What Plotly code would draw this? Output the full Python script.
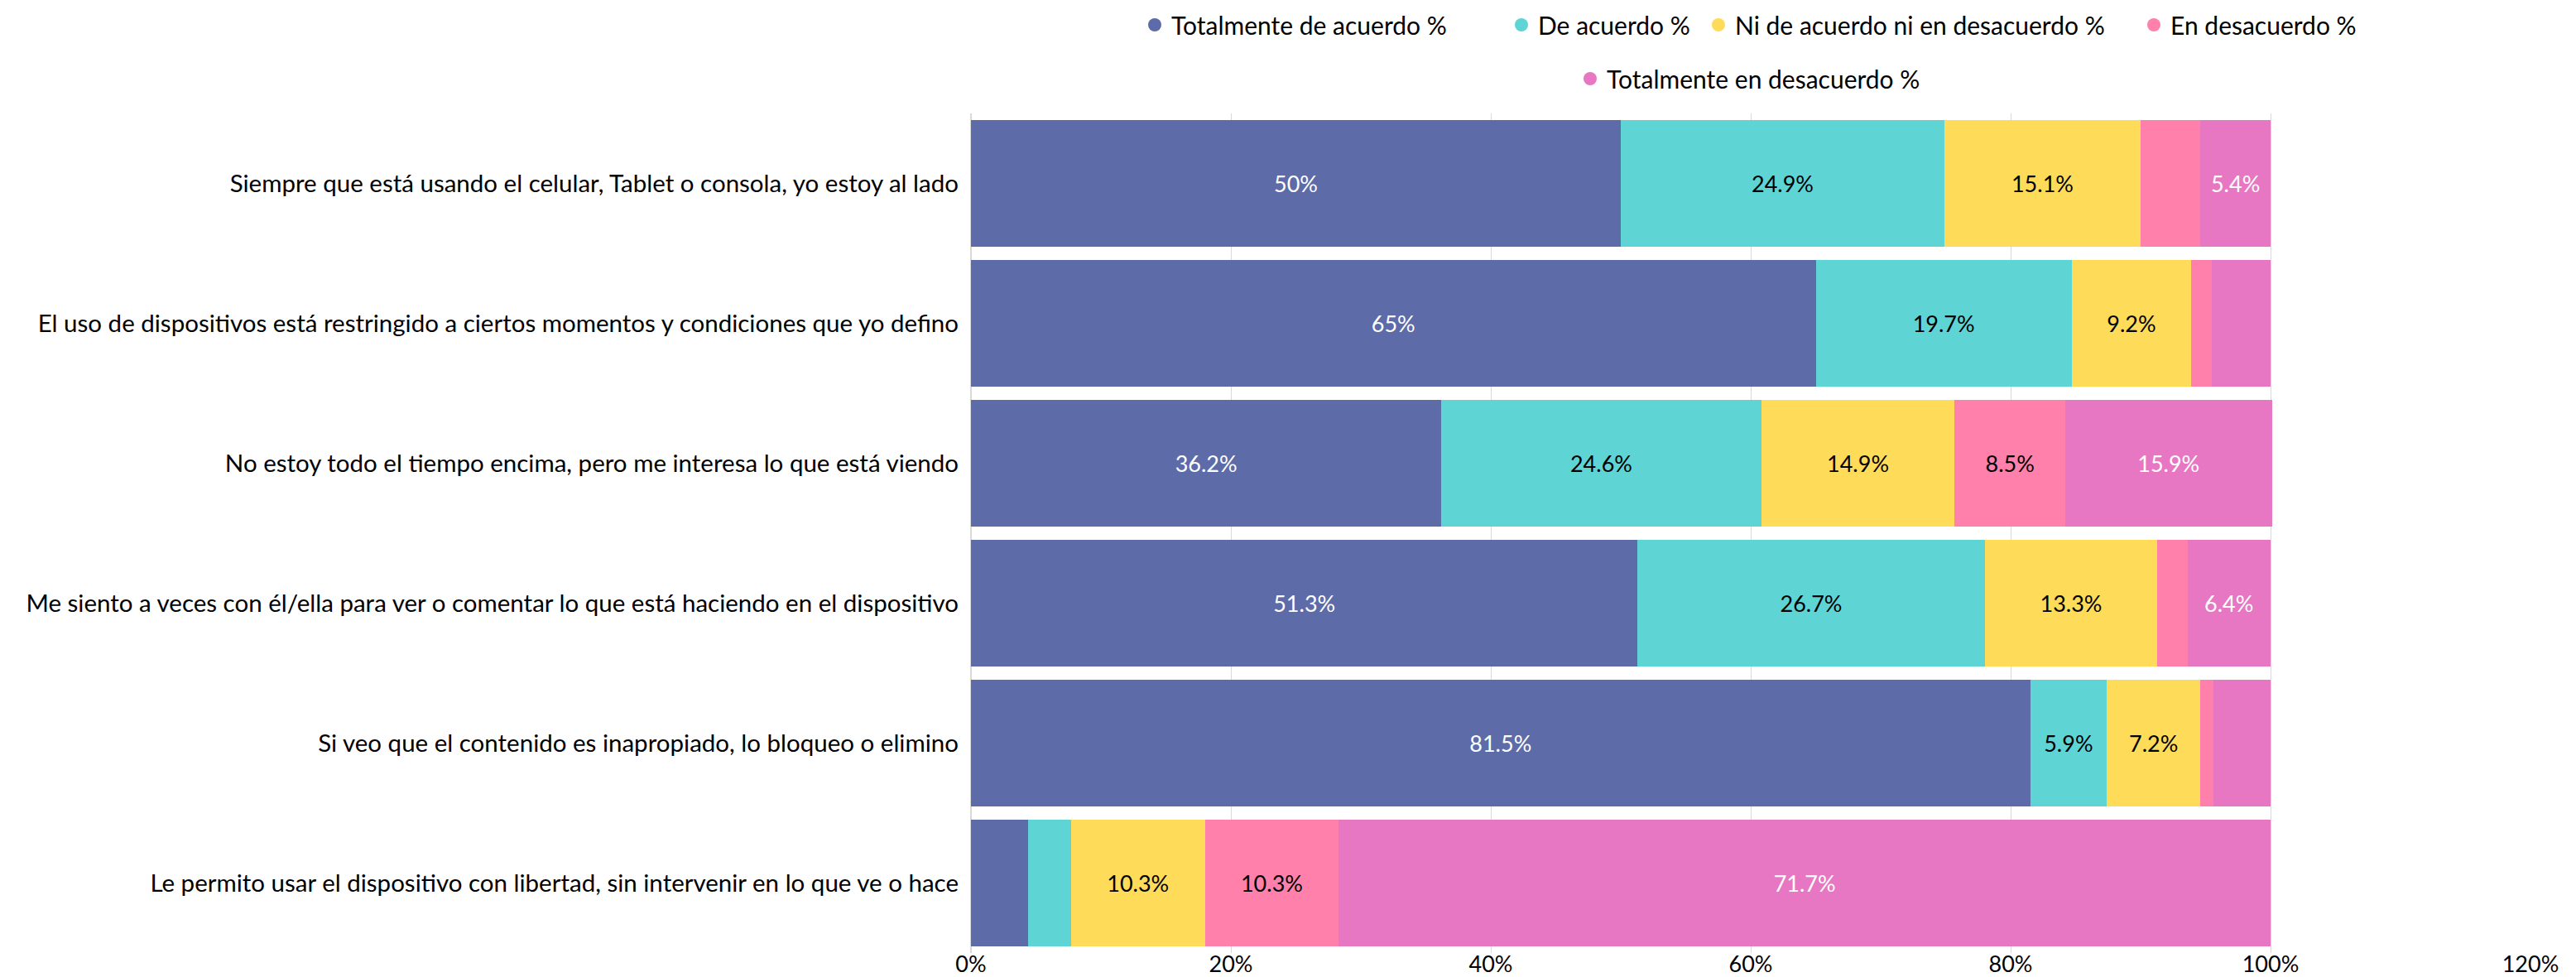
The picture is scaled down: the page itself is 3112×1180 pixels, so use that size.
import plotly.graph_objects as go

categories = [
    "Siempre que está usando el celular, Tablet o consola, yo estoy al lado",
    "El uso de dispositivos está restringido a ciertos momentos y condiciones que yo defino",
    "No estoy todo el tiempo encima, pero me interesa lo que está viendo",
    "Me siento a veces con él/ella para ver o comentar lo que está haciendo en el dispositivo",
    "Si veo que el contenido es inapropiado, lo bloqueo o elimino",
    "Le permito usar el dispositivo con libertad, sin intervenir en lo que ve o hace",
]

series_names = [
    "Totalmente de acuerdo %",
    "De acuerdo %",
    "Ni de acuerdo ni en desacuerdo %",
    "En desacuerdo %",
    "Totalmente en desacuerdo %",
]

totalmente_de_acuerdo = [50.0, 65.0, 36.2, 51.3, 81.5, 4.4]
de_acuerdo = [24.9, 19.7, 24.6, 26.7, 5.9, 3.3]
ni_ni = [15.1, 9.2, 14.9, 13.3, 7.2, 10.3]
en_desacuerdo = [4.6, 1.6, 8.5, 2.3, 1.0, 10.3]
totalmente_en_desacuerdo = [5.4, 4.5, 15.9, 6.4, 4.4, 71.7]

series_values = [totalmente_de_acuerdo, de_acuerdo, ni_ni, en_desacuerdo, totalmente_en_desacuerdo]
colors = ["#5d6ba8", "#5ed4d4", "#fedb59", "#ff80ab", "#e777c3"]
label_colors = ["white", "black", "black", "black", "white"]

x_ticks = [0, 0.2, 0.4, 0.6, 0.8, 1.0, 1.2]
x_tick_labels = ["0%", "20%", "40%", "60%", "80%", "100%", "120%"]

FONT = "Lato"

# plot area geometry (px)
W, H = 3112, 1180
ML, MR, MT, MB = 1173, 55, 137, 29
PW = W - ML - MR
PH = H - MT - MB

fig = go.Figure()
for name, vals, col, lcol in zip(series_names, series_values, colors, label_colors):
    texts = [(f"{v:g}%" if v >= 5 else "") for v in vals]
    fig.add_trace(go.Bar(
        y=categories,
        x=[v / 100 for v in vals],
        orientation="h",
        name=name,
        marker=dict(color=col, line=dict(width=0)),
        text=texts,
        textposition="inside",
        insidetextanchor="middle",
        textangle=0,
        constraintext="none",
        insidetextfont=dict(color=lcol, size=27, family=FONT),
        showlegend=False,
        hoverinfo="skip",
    ))

# legend entries (circle markers), each in its own legend box for exact placement
legend_text_px = [1415, 1858, 2096, 2622, 1941]   # left edge of legend text
legend_row_px = [30, 30, 30, 30, 95]               # vertical centre of legend row
legend_keys = ["legend", "legend2", "legend3", "legend4", "legend5"]
legend_layout = {}
for name, col, key, tx, ty in zip(series_names, colors, legend_keys, legend_text_px, legend_row_px):
    fig.add_trace(go.Scatter(
        x=[None], y=[None], mode="markers", name=name,
        marker=dict(color=col, size=16, symbol="circle"),
        legend=key, showlegend=True, hoverinfo="skip",
    ))
    legend_layout[key] = dict(
        orientation="h",
        x=(tx - 40 - ML) / PW, xanchor="left",
        y=1 + (MT - ty) / PH, yanchor="middle",
        font=dict(size=30, family=FONT, color="black"),
        itemsizing="trace",
        bgcolor="rgba(0,0,0,0)",
    )

fig.update_layout(
    barmode="stack",
    bargap=0.1,
    width=W,
    height=H,
    margin=dict(l=ML, r=MR, t=MT, b=MB, autoexpand=False),
    plot_bgcolor="white",
    paper_bgcolor="white",
    font=dict(family=FONT, size=28, color="black"),
    xaxis=dict(
        range=[0, 1.2],
        tickvals=x_ticks,
        ticktext=x_tick_labels,
        showgrid=True,
        gridcolor="#d9d9d9",
        gridwidth=1,
        zeroline=True,
        zerolinecolor="#d9d9d9",
        ticks="",
        ticklabelstandoff=-5,
        tickfont=dict(size=27, family=FONT),
        automargin=False,
    ),
    yaxis=dict(
        autorange="reversed",
        ticks="",
        ticklabelstandoff=14,
        tickfont=dict(size=29.5, family=FONT),
        automargin=False,
        showgrid=False,
    ),
    **legend_layout,
)

fig.write_html(
    "out.html",
    config={"displayModeBar": False},
    post_script="document.body.style.margin='0';document.body.style.overflow='hidden';",
)
